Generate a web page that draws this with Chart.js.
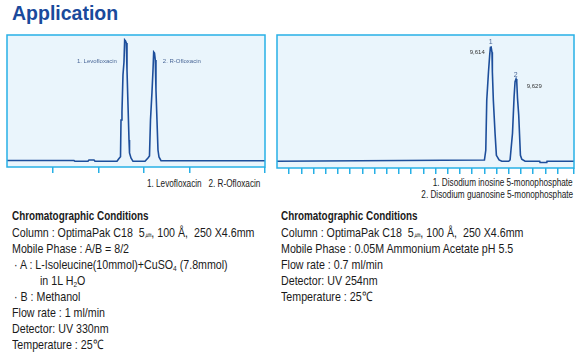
<!DOCTYPE html>
<html><head><meta charset="utf-8">
<script src="https://cdn.jsdelivr.net/npm/chart.js@4"></script>
<style>
body{margin:0;background:#fff;width:584px;height:357px;position:relative;overflow:hidden;font-family:"Liberation Sans",Arial,sans-serif;color:#1a1a1a}
#title{position:absolute;left:12px;top:0px;font:bold 19.5px "Liberation Sans",Arial,sans-serif;color:#1a4a9c;line-height:26px;white-space:nowrap}
canvas{position:absolute}
.ln{position:absolute;white-space:nowrap;font-size:13px;line-height:16px;transform:scaleX(0.82);transform-origin:0 50%}
.hd{font-weight:bold;font-size:12.5px;transform:scaleX(0.79)}
.leg{position:absolute;white-space:nowrap;font-size:10px;line-height:12px;text-align:right;transform:scaleX(0.82);transform-origin:100% 50%}
sub{font-size:8px;vertical-align:-2px;line-height:0}
.um{font-size:8px}
</style></head>
<body>
<div id="title">Application</div>
<canvas id="c1" width="260" height="140" style="left:6px;top:34px"></canvas>
<canvas id="c2" width="299" height="141" style="left:276px;top:34px"></canvas>

<div class="leg" style="right:324px;top:178px">1. Levofloxacin&nbsp;&nbsp;&nbsp;2. R-Ofloxacin</div>
<div class="leg" style="right:11px;top:177px">1. Disodium inosine 5-monophosphate</div>
<div class="leg" style="right:11px;top:189px">2. Disodium guanosine 5-monophosphate</div>

<div class="ln hd" style="left:12px;top:208px">Chromatographic Conditions</div>
<div class="ln" style="left:12px;top:225px">Column : OptimaPak C18&nbsp; 5<span class="um">㎛</span>, 100 Å,&nbsp; 250 X4.6mm</div>
<div class="ln" style="left:12px;top:241px">Mobile Phase : A/B = 8/2</div>
<div class="ln" style="left:14px;top:257px">· A : L-Isoleucine(10mmol)+CuSO<sub>4</sub> (7.8mmol)</div>
<div class="ln" style="left:40px;top:273px">in 1L H<sub>2</sub>O</div>
<div class="ln" style="left:14px;top:289px">· B : Methanol</div>
<div class="ln" style="left:12px;top:305px">Flow rate : 1 ml/min</div>
<div class="ln" style="left:12px;top:321px">Detector: UV 330nm</div>
<div class="ln" style="left:12px;top:337px">Temperature : 25℃</div>

<div class="ln hd" style="left:281px;top:208px">Chromatographic Conditions</div>
<div class="ln" style="left:281px;top:225px">Column : OptimaPak C18&nbsp; 5<span class="um">㎛</span>, 100 Å,&nbsp; 250 X4.6mm</div>
<div class="ln" style="left:281px;top:241px">Mobile Phase : 0.05M Ammonium Acetate pH 5.5</div>
<div class="ln" style="left:281px;top:257px">Flow rate : 0.7 ml/min</div>
<div class="ln" style="left:281px;top:273px">Detector: UV 254nm</div>
<div class="ln" style="left:281px;top:289px">Temperature : 25℃</div>

<script>
// ---- Data: left chromatogram (Levofloxacin / R-Ofloxacin)
const leftTime   = [0,1.466,1.488,1.772,1.794,1.904,1.926,2.407,2.451,2.484,2.495,2.516,2.538,2.560,2.575,2.593,2.611,2.626,2.648,2.670,2.681,2.713,2.757,3.020,3.085,3.118,3.140,3.173,3.195,3.210,3.228,3.245,3.260,3.282,3.304,3.326,3.370,5.646];
const leftSignal = [0.5,0.5,-0.3,-0.3,1,1,-0.3,-0.3,2.5,4.3,41,49,86,99,121,120,118,91,56,21,8,3,-0.3,-0.3,3,5,41,69,91,109,108,101,71,41,11,4,0.3,0.3];
const leftLabelText = ["1. Levofloxacin","2. R-Ofloxacin"];
const leftLabelX    = [1.53,3.41];
const leftLabelY    = [100,100];

// ---- Data: right chromatogram (inosine / guanosine monophosphate)
const rightTime   = [0,17.0,17.11,17.19,17.33,17.43,17.49,17.55,17.62,17.65,17.73,17.87,17.98,18.20,18.42,18.99,19.10,19.30,19.43,19.51,19.59,19.65,19.71,19.81,19.95,20.06,20.33,21.53,21.56,22.11,22.13,24.34];
const rightSignal = [0,1.3,11,61,89,106,114,114.3,109,89.6,61,28,6,1.3,0,0,1.3,28,64.6,79.6,82.3,79.3,63,46,6,2,0,0,-1.2,-1.2,0,0];
const rightLabelText = ["1","9,614","2","9,629"];
const rightLabelX    = [17.52,16.41,19.57,21.08];
const rightLabelY    = [119.3,109,86.3,75.3];

const CYAN='#27b0e6', BG='#eaf5fc', LINE='#1d4e9b';

const boxPlugin = {
  id:'box',
  beforeDraw(chart){
    const {ctx,chartArea:a}=chart;
    ctx.save(); ctx.fillStyle=BG; ctx.fillRect(a.left,a.top,a.width,a.height); ctx.restore();
  },
  afterDraw(chart,args,opts){
    const {ctx,chartArea:a,scales}=chart;
    ctx.save();
    ctx.strokeStyle=CYAN; ctx.lineWidth=1.5;
    ctx.strokeRect(a.left,a.top,a.width,a.height);
    const L=opts.labels||[];
    L.forEach(l=>{
      ctx.font=l.font; ctx.fillStyle=l.color; ctx.textAlign=l.align; ctx.textBaseline='middle';
      ctx.fillText(l.text, scales.x.getPixelForValue(l.x), scales.y.getPixelForValue(l.y));
    });
    ctx.restore();
  }
};

function makeChart(id, xs, ys, xmax, ymin, ymax, labels){
  return new Chart(document.getElementById(id), {
    type:'line',
    data:{datasets:[{data:xs.map((x,i)=>({x:x,y:ys[i]})), borderColor:LINE, borderWidth:1.6, pointRadius:0, tension:0, fill:false}]},
    options:{
      responsive:false, animation:false,
      layout:{padding:{left:1,right:1,top:1,bottom:0}},
      plugins:{legend:{display:false}, tooltip:{enabled:false}, box:{labels:labels}},
      scales:{
        x:{type:'linear', min:0, max:xmax,
           ticks:{display:false, stepSize:1},
           grid:{drawOnChartArea:false, drawTicks:true, tickLength:6, lineWidth:1.5,
                 color:c=>(c.tick && c.tick.value===0)?'rgba(0,0,0,0)':CYAN},
           border:{display:false},
           afterFit:s=>{s.height=7;}},
        y:{display:false, min:ymin, max:ymax}
      }
    },
    plugins:[boxPlugin]
  });
}

makeChart('c1', leftTime, leftSignal, 5.646, -6, 126,
  leftLabelText.map((t,i)=>({text:t,x:leftLabelX[i],y:leftLabelY[i],align:'left',font:'6px "Liberation Sans", Arial, sans-serif',color:'#4a6797'})));
makeChart('c2', rightTime, rightSignal, 24.34, -6.7, 126.3,
  rightLabelText.map((t,i)=>({text:t,x:rightLabelX[i],y:rightLabelY[i],align:'center',
    font:(i%2===0)?'7px "Liberation Sans", Arial, sans-serif':'6px "Liberation Sans", Arial, sans-serif',
    color:(i%2===0)?'#4a6797':'#333333'})));
</script>
</body></html>
